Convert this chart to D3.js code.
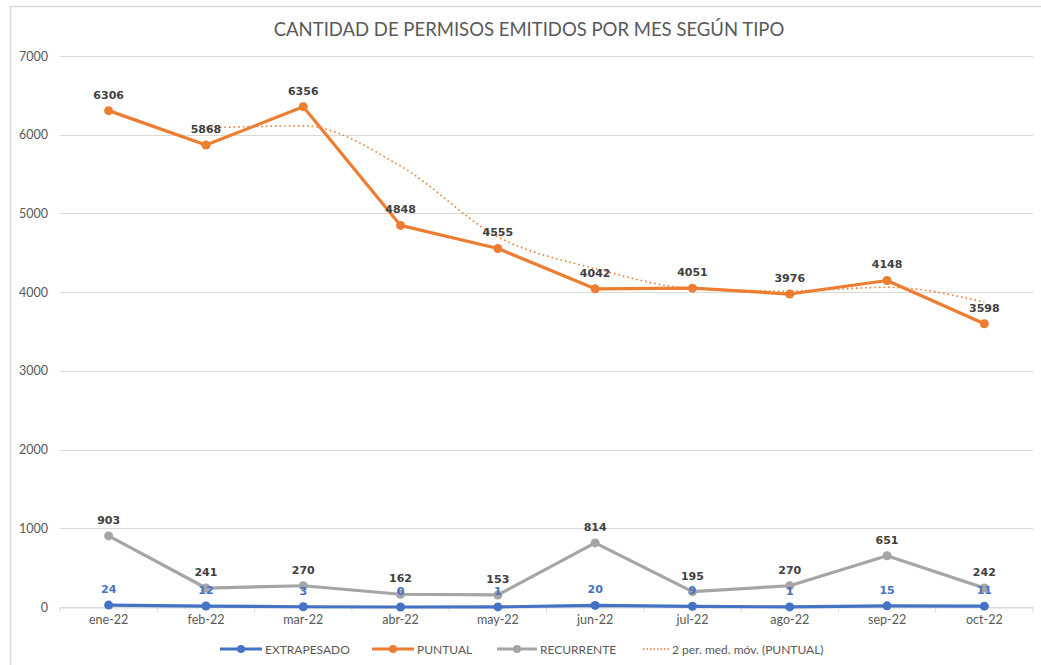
<!DOCTYPE html>
<html>
<head>
<meta charset="utf-8">
<script src="https://cdn.jsdelivr.net/npm/d3@7"></script>
<style>
  body { margin: 0; background: #fff; }
  svg { display: block; }
</style>
</head>
<body>
<div id="chart"></div>
<script>
// Data
var months = ['ene-22', 'feb-22', 'mar-22', 'abr-22', 'may-22', 'jun-22', 'jul-22', 'ago-22', 'sep-22', 'oct-22'];
var extrapesado = [24, 12, 3, 0, 1, 20, 9, 1, 15, 11];
var puntual = [6306, 5868, 6356, 4848, 4555, 4042, 4051, 3976, 4148, 3598];
var recurrente = [903, 241, 270, 162, 153, 814, 195, 270, 651, 242];
// 2 per. med. móv. (PUNTUAL), starts at feb-22
var mediaMovil = [null, 6087, 6112, 5602, 4702, 4299, 4047, 4014, 4062, 3873];
var yTicks = [0, 1000, 2000, 3000, 4000, 5000, 6000, 7000];

var width = 1041;
var height = 665;
var margin = { top: 56, right: 8, bottom: 58, left: 60 };

var blue = '#4472c4', orange = '#ed7d31', gray = '#a5a5a5';
var textColor = '#595959';
var font = 'Lato, "Open Sans", sans-serif';

var svg = d3.select('#chart').append('svg')
  .attr('width', width)
  .attr('height', height);

// chart frame
svg.append('path')
  .attr('d', 'M10.5,' + height + 'V6.5H' + width)
  .attr('fill', 'none')
  .attr('stroke', '#d9d9d9')
  .attr('stroke-width', 1.5);

// title
svg.append('text')
  .attr('x', 529)
  .attr('y', 36)
  .attr('text-anchor', 'middle')
  .attr('font-family', font)
  .attr('font-size', 18.5)
  .attr('fill', textColor)
  .text('CANTIDAD DE PERMISOS EMITIDOS POR MES SEGÚN TIPO');

var x = d3.scaleBand()
  .domain(months)
  .range([margin.left, 1033]);

var y = d3.scaleLinear()
  .domain([0, 7000])
  .range([607, margin.top]);

function cx(i) { return x(months[i]) + x.bandwidth() / 2; }

// gridlines
svg.append('g')
  .selectAll('line')
  .data(yTicks)
  .enter().append('line')
  .attr('x1', margin.left)
  .attr('x2', 1033)
  .attr('y1', function (d) { return Math.round(y(d)) + 0.5; })
  .attr('y2', function (d) { return Math.round(y(d)) + 0.5; })
  .attr('stroke', '#d9d9d9')
  .attr('stroke-width', 1.2);

// y axis labels
var yAxis = d3.axisLeft(y).tickValues(yTicks).tickFormat(d3.format('d')).tickSize(0).tickPadding(12);
var gy = svg.append('g')
  .attr('transform', 'translate(' + margin.left + ',0)')
  .call(yAxis);
gy.select('.domain').remove();
gy.selectAll('text')
  .attr('font-family', font)
  .attr('font-size', 12.5)
  .attr('fill', textColor);

// x axis with ticks at band edges
var gx = svg.append('g')
  .attr('transform', 'translate(0,' + (Math.round(y(0)) + 0.5) + ')')
  .call(d3.axisBottom(x).tickSize(0).tickPadding(8));
gx.select('.domain').attr('stroke', '#d9d9d9').attr('stroke-width', 1.2);
gx.selectAll('text')
  .attr('font-family', font)
  .attr('font-size', 12.5)
  .attr('fill', textColor);
gx.selectAll('.edge')
  .data(d3.range(months.length + 1))
  .enter().append('line')
  .attr('class', 'edge')
  .attr('x1', function (i) { return margin.left + i * x.bandwidth(); })
  .attr('x2', function (i) { return margin.left + i * x.bandwidth(); })
  .attr('y1', 0)
  .attr('y2', 5)
  .attr('stroke', '#d9d9d9');

// moving average (dotted)
var maLine = d3.line()
  .defined(function (d) { return d != null; })
  .x(function (d, i) { return cx(i); })
  .y(function (d) { return y(d); })
  .curve(d3.curveMonotoneX);

svg.append('path')
  .datum(mediaMovil)
  .attr('d', maLine)
  .attr('fill', 'none')
  .attr('stroke', orange)
  .attr('stroke-width', 1.6)
  .attr('stroke-dasharray', '1.6,3');

var line = d3.line()
  .x(function (d, i) { return cx(i); })
  .y(function (d) { return y(d); });

var series = [
  { name: 'RECURRENTE', values: recurrente, color: gray, labelColor: '#404040' },
  { name: 'PUNTUAL', values: puntual, color: orange, labelColor: '#404040' },
  { name: 'EXTRAPESADO', values: extrapesado, color: blue, labelColor: blue }
];

series.forEach(function (s) {
  svg.append('path')
    .datum(s.values)
    .attr('d', line)
    .attr('fill', 'none')
    .attr('stroke', s.color)
    .attr('stroke-width', 3.2)
    .attr('stroke-linejoin', 'round');

  svg.append('g')
    .selectAll('circle')
    .data(s.values)
    .enter().append('circle')
    .attr('cx', function (d, i) { return cx(i); })
    .attr('cy', function (d) { return y(d); })
    .attr('r', 4.5)
    .attr('fill', s.color);
});

// data labels drawn on top
series.forEach(function (s) {
  svg.append('g')
    .selectAll('text')
    .data(s.values)
    .enter().append('text')
    .attr('x', function (d, i) { return cx(i); })
    .attr('y', function (d) { return y(d) - 12; })
    .attr('text-anchor', 'middle')
    .attr('font-family', '"DejaVu Sans", sans-serif')
    .attr('font-weight', 'bold')
    .attr('font-size', 11)
    .attr('fill', s.labelColor)
    .text(function (d) { return d; });
});

// legend
var legendItems = [
  { name: 'EXTRAPESADO', color: blue, x: 220, w: 42 },
  { name: 'PUNTUAL', color: orange, x: 372, w: 42 },
  { name: 'RECURRENTE', color: gray, x: 497, w: 40 },
  { name: '2 per. med. móv. (PUNTUAL)', color: orange, x: 643, w: 26, dotted: true }
];
var ly = 649;
var legend = svg.append('g');
legendItems.forEach(function (it) {
  legend.append('line')
    .attr('x1', it.x)
    .attr('x2', it.x + it.w)
    .attr('y1', ly)
    .attr('y2', ly)
    .attr('stroke', it.color)
    .attr('stroke-width', it.dotted ? 1.5 : 3)
    .attr('stroke-dasharray', it.dotted ? '1.5,2' : null);
  if (!it.dotted) {
    legend.append('circle')
      .attr('cx', it.x + it.w / 2)
      .attr('cy', ly)
      .attr('r', 4)
      .attr('fill', it.color);
  }
  legend.append('text')
    .attr('x', it.x + it.w + 3)
    .attr('y', ly + 4.5)
    .attr('font-family', font)
    .attr('font-size', 12)
    .attr('fill', textColor)
    .text(it.name);
});
</script>
</body>
</html>
